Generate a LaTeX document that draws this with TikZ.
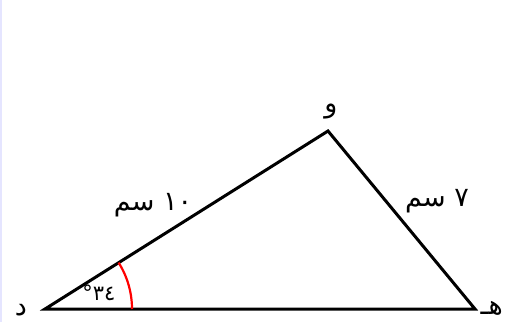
\documentclass[tikz,border=0pt]{standalone}
\usepackage{fontspec}
\newfontfamily\arabicfont[Script=Arabic]{DejaVu Sans}
\TeXXeTstate=1
\usepackage{tikz}
\usetikzlibrary{calc}
\tikzset{side/.style={line width=3pt,line cap=round,line join=miter},
	lbl/.style={font=\arabicfont\fontsize{27}{30}\selectfont,inner sep=0pt}}
\newcommand{\rtl}[1]{{\beginR #1\endR}}

\begin{document}
\begin{tikzpicture}[x=1pt,y=1pt]
				\useasboundingbox (0,0) rectangle (505,322);
				\draw[blue!10,line width=1.5pt] (0.75,0)--(0.75,322);
				\coordinate (D) at (45,13);
				\coordinate (W) at (328,191);
				\coordinate (H) at (475,13);
				\draw[side] (D)--(W)--(H)--cycle;
				\draw[red,line width=2.2pt] ($(D)+(87,0)$) arc (0:32.2:87);
				\node[lbl,anchor=south] (d) at (21,6){\rtl{د}};
				\node[lbl,anchor=south east] (h) at (503,6){\rtl{هـ}};
				\node[lbl] (w) at (331,210){\rtl{و}};
				\node[lbl] (DW) at (153,117){\rtl{\beginL١٠\endL{} سم}};
				\node[lbl] (WH) at (437,121){\rtl{\beginL٧\endL{} سم}};
				%\node at (D)[below]{$D$};
				\node[lbl,font=\arabicfont\fontsize{21}{24}\selectfont] (ang) at (99,29){\rtl{\beginL٣٤\endL°}};
			\end{tikzpicture}
\end{document}
